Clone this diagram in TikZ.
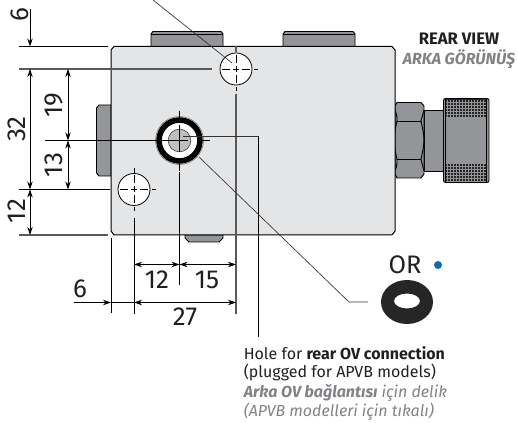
\documentclass[tikz,border=0pt]{standalone}
\usepackage{fontspec}
\setmainfont{Fira Sans}
\usetikzlibrary{arrows.meta}
\definecolor{bodyc}{HTML}{E4E5E7}
\definecolor{tabc}{HTML}{939598}
\definecolor{txt}{HTML}{231F20}
\definecolor{gtxt}{HTML}{808285}
\definecolor{dotc}{HTML}{0A6EBD}
\tikzset{x=0.75pt,y=-0.75pt,
 part/.style={draw=black,line width=0.7pt,fill=tabc},
 thin line/.style={draw=black,line width=0.55pt},
 gline/.style={draw=black!65,line width=0.8pt},
 dimar/.style={draw=black,line width=0.55pt,{Stealth[length=6pt,width=4pt]}-{Stealth[length=6pt,width=4pt]}},
 dimone/.style={draw=black,line width=0.55pt,-{Stealth[length=6pt,width=4pt]}},
 dimtxt/.style={font=\fontsize{19.5}{21}\selectfont,text=txt,inner sep=0pt},
 note/.style={font=\fontsize{12}{14}\selectfont,text=txt,inner sep=0pt,anchor=west},
 gnote/.style={font=\fontsize{12}{14}\selectfont\itshape,text=gtxt,inner sep=0pt,anchor=west}}
\begin{document}
\begin{tikzpicture}
\useasboundingbox (0,0) rectangle (518,423);
% tabs
\path[part] (151,46.5) -- (151,34) -- (153,31.5) -- (221,31.5) -- (223,34) -- (223,46.5) -- cycle;
\draw[line width=0.7pt] (151,34.5) -- (223,34.5);
\path[part] (283,46.5) -- (283,34) -- (285,31.5) -- (353,31.5) -- (355,34) -- (355,46.5) -- cycle;
\draw[line width=0.7pt] (283,34.5) -- (355,34.5);
\path[part] (111,105) -- (99,105) -- (96.5,108) -- (96.5,173) -- (99,176) -- (111,176) -- cycle;
\path[part] (185,235) -- (185,238) -- (189,242) -- (219,242) -- (223,238) -- (223,235) -- cycle;
% fitting
\path[part] (424,110) rectangle (444,171);
\path[part] (397,102.5) -- (421,102.5) -- (424,106) -- (424,174) -- (421,178) -- (397,178) -- (395,174) -- (395,106) -- cycle;
\draw[line width=0.7pt] (397,121) -- (421,121) (397,159.5) -- (421,159.5);
\draw[line width=0.7pt] (395,110) .. controls (397,116) .. (397,121) (424,110) .. controls (422,116) .. (421,121);
\draw[line width=0.7pt] (395,171) .. controls (397,165) .. (397,159.5) (424,171) .. controls (422,165) .. (421,159.5);
\draw[line width=0.7pt] (397,121) .. controls (393,140) .. (397,159.5) (421,121) .. controls (425,140) .. (421,159.5);
\path[part,rounded corners=1.5pt] (443.5,98.5) rectangle (489,182.5);
\fill[black!85] (445,99.5) rectangle (487,117.5);
\fill[black!85] (445,164) rectangle (487,181.5);
\foreach \x in {447,450,...,486} \draw[tabc,line width=0.35pt] (\x,100) -- (\x,117) (\x,164.5) -- (\x,181);
\foreach \y in {102,105,...,116} \draw[tabc,line width=0.35pt] (445,\y) -- (487,\y);
\foreach \y in {166,169,...,180} \draw[tabc,line width=0.35pt] (445,\y) -- (487,\y);
\draw[line width=0.7pt] (445.5,99) -- (445.5,182) (486.5,99) -- (486.5,182);
% body
\path[draw=black,line width=0.75pt,fill=bodyc] (114,46.5) -- (392,46.5) -- (395,50) -- (395,231) -- (392,235) -- (114,235) -- (111,231) -- (111,50) -- cycle;
% extension lines
\coordinate (eL) at (19,46.5); \coordinate (eLe) at (108,46.5);
\coordinate (f1) at (19,69); \coordinate (f2) at (19,189.5); \coordinate (f3) at (19,235); \coordinate (f3e) at (108,235);
\coordinate (mid) at (45,140.5);
\draw[thin line] (eL) -- (eLe);
\draw[gline] (f1) -- (212,69);
\draw[gline] (f3) -- (f3e);
\draw[thin line] (f2) -- (110,189.5);
\draw[thin line] (mid) -- (148,140.5);
% vertical center lines
\draw[gline] (236,46.5) -- (236,52);
\draw[gline] (236,94) -- (236,314);
\draw[thin line] (179.5,172) -- (179.5,285.5);
\draw[thin line] (134,218) -- (134,314);
\draw[thin line] (111,238.5) -- (111,313.5);
\draw[thin line] (258,136) -- (258,337);
% holes
\node[circle,draw=black,line width=0.6pt,fill=white,minimum size=24pt,inner sep=0pt] (h1) at (236,69) {};
\node[circle,draw=black,line width=0.6pt,fill=white,minimum size=24pt,inner sep=0pt] (h2) at (134,189.5) {};
\foreach \cx/\cy in {236/69,134/189.5}{
 \draw[black,line width=0.5pt] (\cx-14,\cy) -- (\cx-6,\cy) (\cx-3,\cy) -- (\cx+3,\cy) (\cx+6,\cy) -- (\cx+14,\cy)
  (\cx,\cy-14) -- (\cx,\cy-6) (\cx,\cy-3) -- (\cx,\cy+3) (\cx,\cy+6) -- (\cx,\cy+14);
 \draw[black,line width=0.5pt] (\cx+18,\cy) -- (\cx+22,\cy)
  (\cx,\cy+18) -- (\cx,\cy+22);}
\draw[black,line width=0.5pt] (134,168) -- (134,173);
% central port
\node[circle,draw=black!60,line width=0.4pt,fill=white,minimum size=36pt,inner sep=0pt] (port) at (179.5,140.5) {};
\draw[black,line width=4.2pt] (179.5,140.5) circle[radius=20.5];
\node[circle,draw=black!70,line width=0.5pt,fill=black!25,minimum size=17pt,inner sep=0pt] (plug) at (179.5,140.5) {};
\draw[black,line width=0.55pt] (162,140.5) -- (188,140.5) (179.5,125) -- (179.5,152);
\draw[black,line width=0.55pt] (179.5,111) -- (179.5,117) (179.5,164) -- (179.5,171) (203,140.5) -- (210,140.5) (148,140.5) -- (156,140.5);
% leaders
\coordinate (topl) at (153,0); \coordinate (topr) at (232,63);
\draw[black!80,line width=0.5pt] (topl) -- (topr);
\coordinate (pl1) at (199,157); \coordinate (pl2) at (349,302); \coordinate (pl3) at (368,302);
\draw[black!80,line width=0.5pt] (pl1) -- (pl2) -- (pl3);
\draw[black!80,line width=0.5pt] (183,136) -- (258,136);
% vertical dimensions
\coordinate (v0) at (30,9);
\coordinate (v1) at (30,46.5); \coordinate (v2) at (30,69); \coordinate (v3) at (30,189.5); \coordinate (v4) at (30,235);
\draw[dimone] (v0) -- (v1);
\draw[dimar] (v2) -- (v3);
\draw[dimar] (v3) -- (v4);
\draw[dimar] (68,69) -- (68,140.5);
\draw[dimar] (68,140.5) -- (68,189.5);
% horizontal dimensions
\draw[dimar] (134,264.5) -- (179.5,264.5);
\draw[dimar] (179.5,264.5) -- (236,264.5);
\draw[dimone] (74,302.5) -- (111,302.5);
\draw[thin line] (111,302.5) -- (134,302.5);
\draw[dimar] (134,302.5) -- (236,302.5);
% dimension texts
\node[dimtxt,rotate=90] (d6) at (20,15) {6};
\node[dimtxt,rotate=90] (d32) at (17,129) {32};
\node[dimtxt,rotate=90] (d19) at (54,105) {19};
\node[dimtxt,rotate=90] (d13) at (54,165) {13};
\node[dimtxt,rotate=90] (d12) at (17,211) {12};
\node[dimtxt] (h12) at (157,280) {12};
\node[dimtxt] (h15) at (207,280) {15};
\node[dimtxt] (h6) at (80,289) {6};
\node[dimtxt] (h27) at (185,317) {27};
% titles
\node[font=\fontsize{12.5}{14}\selectfont\bfseries,text=txt,inner sep=0pt] (t1) at (459,38.5) {REAR VIEW};
\node[font=\fontsize{12}{14}\selectfont\bfseries\itshape,text=gtxt,inner sep=0pt] (t2) at (459,59.5) {ARKA GÖRÜNÜŞ};
% O-ring
\node[font=\fontsize{19}{20}\selectfont,text=txt,inner sep=0pt] (or) at (405,265) {OR};
\node[circle,fill=dotc,minimum size=6pt,inner sep=0pt] (dot) at (438,265) {};
\path[fill=black!85,even odd rule] (407,302) ellipse[x radius=26,y radius=22] (407,301) ellipse[x radius=13,y radius=7.5];
% notes
\node[note] (n1) at (243.5,353) {Hole for \textbf{rear OV connection}};
\node[note] (n2) at (243.5,372) {(plugged for APVB models)};
\node[gnote] (n3) at (243.5,393) {\textbf{Arka OV bağlantısı} için delik};
\node[gnote] (n4) at (243.5,412) {(APVB modelleri için tıkalı)};
\end{tikzpicture}
\end{document}
